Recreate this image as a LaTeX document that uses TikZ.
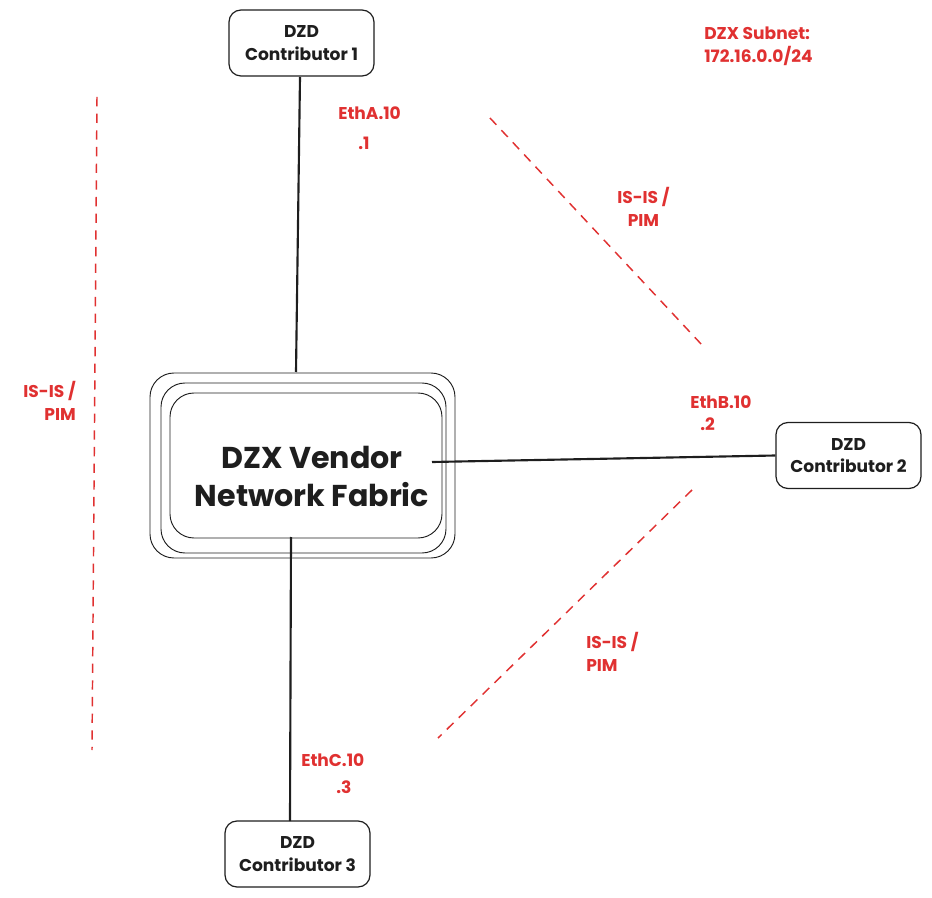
\documentclass[tikz,border=0pt]{standalone}
\usepackage{fontspec}
\setmainfont{Poppins}
\definecolor{ink}{HTML}{1E1E1E}
\definecolor{redink}{HTML}{E03131}
\begin{document}
\begin{tikzpicture}[x=0.75pt,y=-0.75pt,
  box/.style={draw=ink, line width=0.9pt, rounded corners=9pt, fill=white, minimum width=108.75pt, minimum height=49.5pt, align=center, font=\bfseries\fontsize{12.8pt}{17pt}\selectfont, text=ink, inner sep=0pt},
  fabbox/.style={draw=ink, line width=0.7pt, rounded corners=18pt},
  conn/.style={draw=ink, line width=1.6pt},
  sep/.style={draw=redink, line width=1.1pt, dash pattern=on 7pt off 5.5pt},
  lbl/.style={text=redink, font=\bfseries\fontsize{12.8pt}{17pt}\selectfont, inner sep=0pt}
]
\useasboundingbox (0,0) rectangle (932,898);
% fabric layered boxes
\draw[fabbox] (150,373) rectangle (455,558);
\draw[fabbox] (161,383) rectangle (446,553);
\node[fabbox, draw=ink, minimum width=204pt, minimum height=108.75pt] (fabric) at (306,465.5) {};
\node[text=ink, align=center, font=\bfseries\fontsize{22.6pt}{28.5pt}\selectfont, inner sep=0pt] (fabrictext) at (312,476) {DZX Vendor\\Network Fabric};
% contributors
\node[box] (c1) at (301.5,43) {DZD\\Contributor 1};
\node[box] (c2) at (848.5,455.5) {DZD\\Contributor 2};
\node[box] (c3) at (297.5,854) {DZD\\Contributor 3};
% connector free ends in fabric
\coordinate (fa) at (296,372);
\coordinate (fb) at (432,462);
\coordinate (fc) at (291,537);
\coordinate (c1end) at (300,77);
\coordinate (c3end) at (290,821);
\draw[conn] (c1end) -- (fa);
\draw[conn] (fb) -- (c2.west);
\draw[conn] (fc) -- (c3end);
% dashed separators
\coordinate (s1a) at (97,97); \coordinate (s1b) at (92,750);
\coordinate (s2a) at (490,118); \coordinate (s2b) at (702,345);
\coordinate (s3a) at (692,490); \coordinate (s3b) at (438,738);
\draw[sep] (s1a) -- (s1b);
\draw[sep] (s2a) -- (s2b);
\draw[sep] (s3a) -- (s3b);
% labels
\node[lbl, anchor=west, align=left] (subnet) at (704,46) {DZX Subnet:\\172.16.0.0/24};
\node[lbl, anchor=west] (etha) at (338,113) {EthA.10};
\node[lbl, anchor=west] (etha1) at (358,143) {.1};
\node[lbl, anchor=west] (ethb) at (690,402) {EthB.10};
\node[lbl, anchor=west] (ethb2) at (700,424) {.2};
\node[lbl, anchor=west] (ethc) at (301,760) {EthC.10};
\node[lbl, anchor=west] (ethc3) at (336,787) {.3};
\node[lbl, anchor=east, align=right] (isl) at (76,401) {IS-IS /\\PIM};
\node[lbl, anchor=west, align=center] (isu) at (617,207) {IS-IS /\\PIM};
\node[lbl, anchor=west, align=left] (isd) at (586,652) {IS-IS /\\PIM};
\end{tikzpicture}
\end{document}
